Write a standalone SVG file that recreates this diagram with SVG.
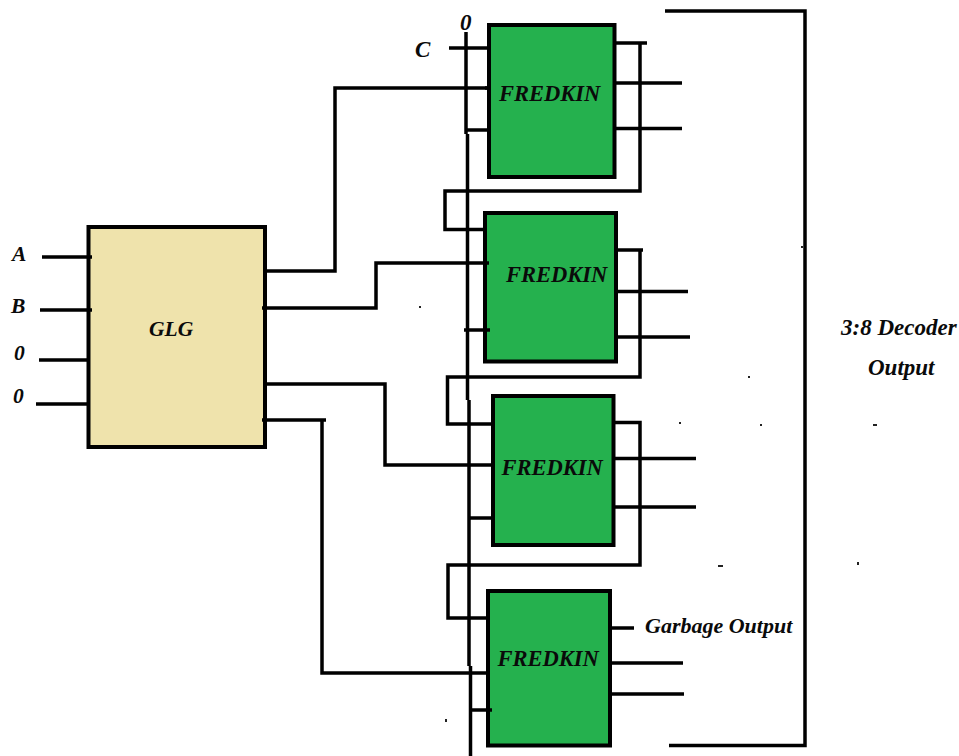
<svg xmlns="http://www.w3.org/2000/svg" width="959" height="756" viewBox="0 0 959 756">
<style>
.box{stroke:#000;stroke-width:4}
.w{fill:none;stroke:#000;stroke-width:3.500;stroke-linejoin:miter}
.t{font-family:"Liberation Serif","Times New Roman",serif;font-weight:bold;font-style:italic;fill:#0a0a0a}
.f{font-size:22.500px}
.l{font-size:21.500px}
.m{font-size:23px}
.s{fill:#222}
</style>
<rect width="959" height="756" fill="#fff"/>
<g id="connectors">
<path class="w" d="M42 257H91M40 310H91M39 360H88M36 404H88"/>
<path class="w" d="M466 32V134M467.500 134V400M469 400V666M470.500 666V756"/>
<path class="w" d="M449 48H489M467 130H489"/>
<path class="w" d="M265 271H335V88H491"/>
<path class="w" d="M263 308H376V263H487"/>
<path class="w" d="M265 384H385V465H493"/>
<path class="w" d="M263 420H326M322 420V673H488"/>
<path class="w" d="M615 43H647M640 43V191H445V229.500H485"/>
<path class="w" d="M615 83H682M615 128.500H682"/>
<path class="w" d="M616 250H643M640 250V377H447.500V424H495"/>
<path class="w" d="M616 291.500H688M616 337H690M464 330H488"/>
<path class="w" d="M614 422.500H640V565H448V618H488"/>
<path class="w" d="M614 458.500H696M614 507H696M469 518H493"/>
<path class="w" d="M610 628H634M610 663H683M610 694H684M470 710H490"/>
<path class="w" d="M665 11H805V745.500H669"/>
</g>
<g id="glg"><rect class="box" x="88.500" y="227" width="176.500" height="220" fill="#efe3ac"/><text class="t" x="149" y="336" font-size="21.500">GLG</text></g>
<g id="fredkin1"><rect class="box" x="489" y="25" width="125.500" height="152" fill="#25b14e"/><text class="t f" x="499" y="100.500">FREDKIN</text></g>
<g id="fredkin2"><rect class="box" x="485" y="213" width="131" height="148.500" fill="#25b14e"/><text class="t f" x="506" y="281.500">FREDKIN</text></g>
<g id="fredkin3"><rect class="box" x="493" y="396" width="120.500" height="149" fill="#25b14e"/><text class="t f" x="501.500" y="475">FREDKIN</text></g>
<g id="fredkin4"><rect class="box" x="488" y="591" width="122" height="154.500" fill="#25b14e"/><text class="t f" x="497.500" y="666">FREDKIN</text></g>
<path class="w" d="M485 88H491M484 263H489M486 330H490M488 710H492M88 257H92M88 310H92M262 308H266M262 420H266"/>
<g id="labels">
<text class="t l" x="12" y="261">A</text>
<text class="t l" x="11" y="313">B</text>
<text class="t l" x="14" y="360">0</text>
<text class="t l" x="13" y="403">0</text>
<text class="t m" x="415" y="56.500">C</text>
<text class="t m" x="460" y="30">0</text>
<text class="t" x="645" y="633" font-size="22">Garbage Output</text>
<text class="t m" x="841" y="335">3:8 Decoder</text>
<text class="t m" x="868" y="375">Output</text>
</g>
<g id="specks"><rect class="s" x="419" y="306" width="2" height="2"/><rect class="s" x="748" y="376" width="2" height="2"/><rect class="s" x="679" y="422" width="2" height="2"/><rect class="s" x="760" y="424" width="2" height="2"/><rect class="s" x="873" y="424" width="4" height="2"/><rect class="s" x="718" y="565" width="5" height="2"/><rect class="s" x="857" y="562" width="2" height="3"/><rect class="s" x="445" y="719" width="2" height="3"/><rect class="s" x="801" y="246" width="2" height="2"/></g>
</svg>
